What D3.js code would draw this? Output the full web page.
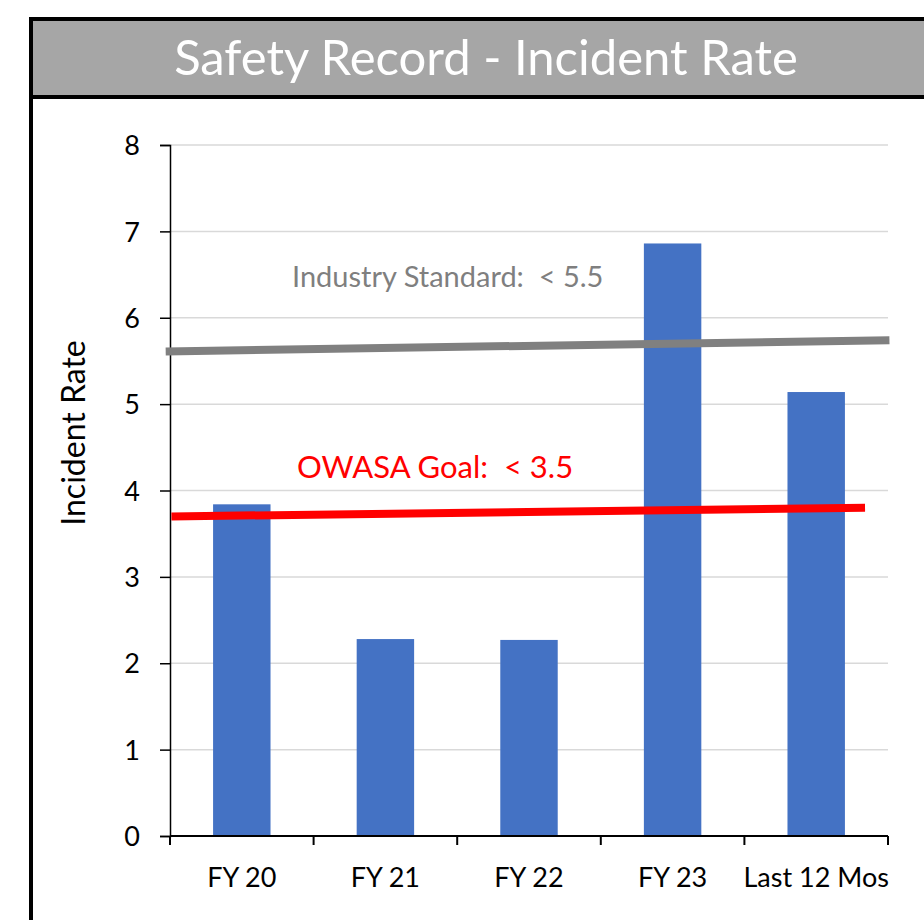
<!DOCTYPE html>
<html>
<head>
<meta charset="utf-8">
<script src="https://d3js.org/d3.v7.min.js"></script>
<title>Safety Record - Incident Rate</title>
</head>
<style>
body {
  margin: 0;
  background: #fff;
}
svg {
  display: block;
}
text {
  font-family: Lato, "Noto Sans", sans-serif;
}
</style>
<body>
<svg width="924" height="920"></svg>
<script>

// data
let categories = ["FY 20", "FY 21", "FY 22", "FY 23", "Last 12 Mos"];
let rates = [3.84, 2.28, 2.27, 6.86, 5.14];
let yTicks = [0, 1, 2, 3, 4, 5, 6, 7, 8];

// reference lines, x given in category units (0 = left axis, 5 = right end)
let industryX = [-0.03, 5.01];
let industryY = [5.61, 5.74];
let goalX = [0.01, 4.84];
let goalY = [3.70, 3.80];

let svg = d3.select("svg");
let plotLeft = 170, plotRight = 888, plotTop = 145, plotBottom = 836;

// frame and title bar
svg.append("rect")
  .attr("x", 31).attr("y", 19)
  .attr("width", 920).attr("height", 78)
  .attr("fill", "#a6a6a6")
  .attr("stroke", "#000")
  .attr("stroke-width", 4);
svg.append("line")
  .attr("x1", 31).attr("y1", 17).attr("x2", 31).attr("y2", 920)
  .attr("stroke", "#000").attr("stroke-width", 4);
svg.append("text")
  .attr("x", 486).attr("y", 75)
  .attr("text-anchor", "middle")
  .attr("fill", "#fff")
  .attr("font-size", 49)
  .text("Safety Record - Incident Rate");

let x = d3.scaleBand()
  .domain(categories)
  .range([plotLeft, plotRight])
  .paddingInner(0.6)
  .paddingOuter(0.3);

let xUnit = d3.scaleLinear().domain([0, 5]).range([plotLeft, plotRight]);

let y = d3.scaleLinear().domain([0, 8]).range([plotBottom, plotTop]);

// grid
svg.append("g")
  .selectAll("line")
  .data(yTicks.filter(d => d > 0))
  .enter().append("line")
  .attr("x1", plotLeft).attr("x2", plotRight)
  .attr("y1", d => y(d)).attr("y2", d => y(d))
  .attr("stroke", "#d9d9d9")
  .attr("stroke-width", 1.5);

// bars
svg.append("g")
  .selectAll("rect")
  .data(rates)
  .enter().append("rect")
  .attr("x", (d, i) => x(categories[i]))
  .attr("y", d => y(d))
  .attr("width", x.bandwidth())
  .attr("height", d => plotBottom - y(d))
  .attr("fill", "#4472c4");

// y axis
let yAxis = svg.append("g")
  .attr("transform", "translate(" + plotLeft + ",0)")
  .call(d3.axisLeft(y).tickValues(yTicks).tickSize(10).tickPadding(20).tickFormat(d3.format("d")));
yAxis.select(".domain").attr("stroke", "#000").attr("stroke-width", 1.5);
yAxis.selectAll(".tick line").attr("stroke", "#000").attr("stroke-width", 1.5);
yAxis.selectAll("text")
  .attr("font-size", 27)
  .attr("font-family", "Lato, sans-serif")
  .attr("fill", "#000")
  .attr("dy", "0.36em");

// x axis, ticks on category boundaries
let xAxis = svg.append("g")
  .attr("transform", "translate(0," + plotBottom + ")");
xAxis.append("line")
  .attr("x1", plotLeft).attr("x2", plotRight)
  .attr("stroke", "#000").attr("stroke-width", 2);
xAxis.selectAll(".bound")
  .data(d3.range(categories.length + 1))
  .enter().append("line")
  .attr("class", "bound")
  .attr("x1", d => xUnit(d)).attr("x2", d => xUnit(d))
  .attr("y1", 0).attr("y2", 9)
  .attr("stroke", "#000").attr("stroke-width", 2);
xAxis.selectAll(".label")
  .data(categories)
  .enter().append("text")
  .attr("class", "label")
  .attr("x", d => x(d) + x.bandwidth() / 2)
  .attr("y", 51)
  .attr("text-anchor", "middle")
  .attr("font-size", 27)
  .attr("fill", "#000")
  .text(d => d);

// y axis title
svg.append("text")
  .attr("transform", "translate(85,433) rotate(-90)")
  .attr("text-anchor", "middle")
  .attr("font-family", "'Open Sans', sans-serif")
  .attr("font-size", 32)
  .attr("fill", "#000")
  .text("Incident Rate");

// reference lines
let line = d3.line().x(d => xUnit(d[0])).y(d => y(d[1]));
svg.append("path")
  .datum(d3.zip(industryX, industryY))
  .attr("d", line)
  .attr("stroke", "#808080")
  .attr("stroke-width", 8)
  .attr("fill", "none");
svg.append("path")
  .datum(d3.zip(goalX, goalY))
  .attr("d", line)
  .attr("stroke", "#ff0000")
  .attr("stroke-width", 8)
  .attr("fill", "none");

svg.append("text")
  .attr("x", 292).attr("y", 287)
  .attr("font-size", 29)
  .attr("fill", "#7f7f7f")
  .attr("xml:space", "preserve")
  .text("Industry Standard:  < 5.5");
svg.append("text")
  .attr("x", 297).attr("y", 478)
  .attr("font-size", 31)
  .attr("fill", "#ff0000")
  .attr("xml:space", "preserve")
  .text("OWASA Goal:  < 3.5");

</script>
</body>
</html>
